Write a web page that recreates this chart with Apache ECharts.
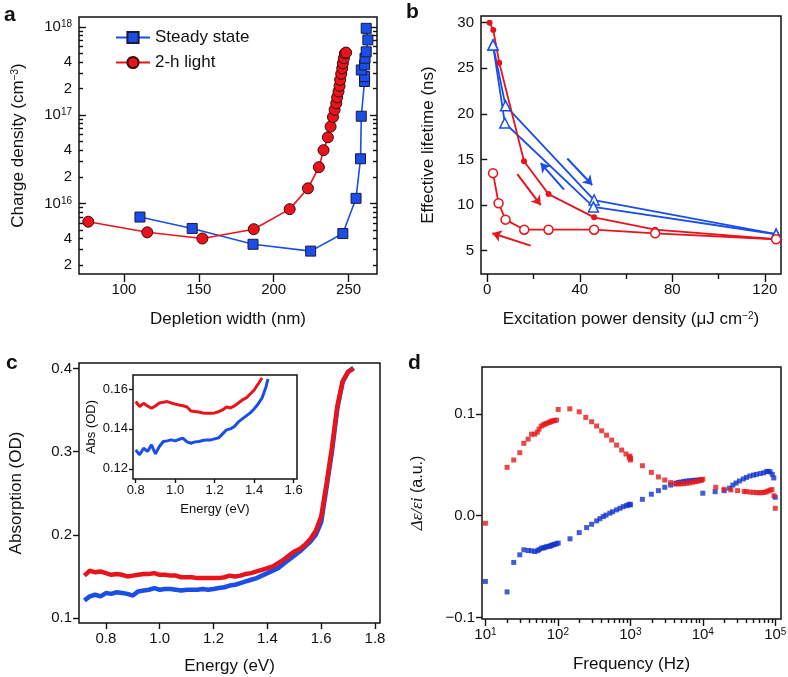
<!DOCTYPE html>
<html><head><meta charset="utf-8">
<script src="https://cdn.jsdelivr.net/npm/echarts@6/dist/echarts.min.js"></script>
<style>html,body{margin:0;padding:0;background:#fff}#c{width:788px;height:677px}</style>
</head><body><div id="c"></div>
<script>
// ---------- Panel a ----------
const aRedWidth = [76.2,115.6,152.4,186.7,210.7,222.9,230.2,233.3,236.2,238.0,239.6,240.7,241.8,242.4,243.3,244.0,244.4,245.1,245.8,246.2,246.9,247.6,248.4];
const aRedDensity = [6.2e15,4.7e15,4.0e15,5.1e15,8.6e15,1.48e16,2.57e16,4.0e16,5.6e16,7.4e16,9.5e16,1.15e17,1.36e17,1.59e17,1.85e17,2.14e17,2.5e17,2.93e17,3.39e17,3.86e17,4.4e17,5.0e17,5.1e17];
const aBlueWidth = [110.7,145.6,186.2,224.7,246.2,255.0,258.0,258.5,260.7,260.7,258.5,260.7,261.0,261.8,262.9,261.8];
const aBlueDensity = [7.0e15,5.2e15,3.44e15,2.88e15,4.55e15,1.14e16,3.2e16,9.7e16,2.4e17,2.73e17,3.24e17,3.7e17,4.4e17,5.2e17,7.1e17,9.6e17];
const aXTicks = [100,150,200,250];
const aYTicks = [2e15,4e15,1e16,2e16,4e16,1e17,2e17,4e17,1e18];

// ---------- Panel b ----------
const bRedFillPower = [1.0,2.6,5.2,15.9,26.5,46.2,72.6,124.9];
const bRedFillLife  = [30.0,29.2,25.6,14.8,11.2,8.65,7.3,6.25];
const bRedOpenPower = [124.9,72.6,46.2,26.5,16.0,7.9,4.9,2.5];
const bRedOpenLife  = [6.25,6.9,7.3,7.3,7.3,8.4,10.2,13.5];
const bBlueUpPower = [2.5,7.9,46.2,124.9];
const bBlueUpLife  = [27.55,20.9,10.55,6.8];
const bBlueDownPower = [124.9,45.9,7.6,2.5];
const bBlueDownLife  = [6.8,9.8,19.0,27.55];
const bBlueArrows = [[34.6,15.1,45.4,12.2],[33.2,11.7,23.1,14.6]];
const bRedArrows  = [[13.0,13.4,23.1,10.0],[18.75,5.55,2.2,6.9]];
const bXTicks = [0,40,80,120];
const bXMinorTicks = [20,60,100];
const bYTicks = [5,10,15,20,25,30];

// ---------- Panel c ----------
const cEnergy = [0.72,0.74,0.76,0.78,0.80,0.82,0.84,0.86,0.88,0.90,0.92,0.94,0.96,0.98,1.00,1.02,1.04,1.06,1.08,1.10,1.12,1.14,1.16,1.18,1.20,1.22,1.24,1.26,1.28,1.30,1.32,1.34,1.36,1.38,1.40,1.42,1.44,1.46,1.48,1.50,1.52,1.54,1.56,1.58,1.60,1.62,1.64,1.66,1.68,1.70,1.72];
const cRed  = [0.151,0.157,0.155,0.156,0.154,0.152,0.153,0.152,0.150,0.151,0.152,0.153,0.153,0.154,0.152,0.152,0.151,0.151,0.149,0.149,0.149,0.148,0.148,0.148,0.148,0.148,0.149,0.151,0.150,0.151,0.153,0.154,0.156,0.158,0.160,0.162,0.166,0.170,0.175,0.180,0.183,0.188,0.195,0.205,0.222,0.262,0.305,0.355,0.385,0.396,0.400];
const cBlue = [0.121,0.126,0.128,0.126,0.130,0.129,0.131,0.130,0.129,0.127,0.132,0.133,0.134,0.136,0.134,0.135,0.135,0.134,0.133,0.134,0.134,0.134,0.135,0.134,0.135,0.136,0.137,0.139,0.140,0.142,0.144,0.146,0.148,0.151,0.154,0.157,0.160,0.165,0.170,0.175,0.180,0.186,0.192,0.200,0.215,0.257,0.300,0.352,0.384,0.396,0.401];
const cXTicks = [0.8,1.0,1.2,1.4,1.6,1.8];
const cYTicks = [0.1,0.2,0.3,0.4];
const insetEnergy = [0.80,0.82,0.84,0.86,0.88,0.90,0.92,0.94,0.96,0.98,1.00,1.02,1.04,1.06,1.08,1.10,1.12,1.14,1.16,1.18,1.20,1.22,1.24,1.26,1.28,1.30,1.32,1.34,1.36,1.38,1.40,1.42,1.44,1.46,1.47];
const insetRed  = [0.1537,0.1512,0.1528,0.1515,0.1503,0.1515,0.1530,0.1534,0.1537,0.1530,0.1524,0.1520,0.1516,0.1510,0.1490,0.1487,0.1485,0.1480,0.1478,0.1478,0.1480,0.1486,0.1495,0.1510,0.1505,0.1515,0.1530,0.1545,0.1555,0.1575,0.1595,0.1625,0.1655,null,null];
const insetBlue = [0.1295,0.1270,0.1303,0.1287,0.1320,0.1275,0.1312,0.1337,0.1340,0.1345,0.1340,0.1348,0.1353,0.1335,0.1328,0.1335,0.1337,0.1342,0.1345,0.1345,0.1350,0.1355,0.1375,0.1395,0.1400,0.1412,0.1435,0.1450,0.1465,0.1480,0.1500,0.1525,0.1555,0.1610,0.1650];
const insetXTicks = [0.8,1.0,1.2,1.4,1.6];
const insetYTicks = [0.12,0.14,0.16];

// ---------- Panel d ----------
const dRedFreq = [10,19.9,24.6,29.8,33.9,38.9,43.3,48,52,55,59,63,66,69.9,75,78,81.6,86,90,95.8,101,146,197,243,292,343,402,470,553,646,759,871,962,990,1000,1010,1466,1950,2440,2985,3600,4240,4600,5000,5500,6000,6600,7200,7800,8400,9000,9500,10000,15100,19700,24400,30200,37300,40000,45000,50000,55000,60000,65000,70000,75000,80000,85000,90000,96000,100000];
const dRedVal  = [-0.0075,0.0474,0.0546,0.0618,0.071,0.0752,0.080,0.080,0.082,0.085,0.088,0.089,0.090,0.0906,0.0915,0.092,0.0928,0.093,0.0935,0.0938,0.1043,0.1049,0.102,0.0965,0.0922,0.088,0.0833,0.079,0.0742,0.0693,0.0644,0.0605,0.0572,0.0585,0.0546,0.056,0.049,0.0425,0.038,0.035,0.0324,0.031,0.0313,0.0312,0.0314,0.0318,0.0322,0.0328,0.0333,0.0338,0.0343,0.035,0.0357,0.0278,0.0259,0.0252,0.0245,0.0237,0.0235,0.0231,0.0228,0.0226,0.0225,0.0225,0.0228,0.0233,0.0242,0.025,0.0255,0.0195,0.0072];
const dBlueFreq = [10,19.9,24.6,29.8,33.9,38.9,43.3,48,52,55,59,63,66,69.9,75,78,81.6,86,90,95.8,101,147,197,249,292,343,380,423,460,522,570,646,720,798,880,940,988,1000,1466,1950,2440,2985,3600,4240,4600,5000,5500,6000,6600,7200,7800,8400,9000,9500,10000,14800,19700,23400,26000,28800,32000,36300,40000,44700,50000,55000,62000,69000,75900,80000,85000,91000,95500,100000];
const dBlueVal  = [-0.0647,-0.075,-0.046,-0.0385,-0.0336,-0.0343,-0.0346,-0.0353,-0.0345,-0.0335,-0.032,-0.0318,-0.0312,-0.0306,-0.0302,-0.030,-0.0292,-0.0287,-0.0282,-0.0277,-0.027,-0.0228,-0.0167,-0.0118,-0.0085,-0.0052,-0.003,-0.001,0.0005,0.0024,0.0038,0.0056,0.0072,0.0088,0.0098,0.0105,0.0112,0.0105,0.016,0.021,0.0245,0.0278,0.030,0.0318,0.0325,0.033,0.0335,0.034,0.0343,0.0345,0.0347,0.0348,0.035,0.035,0.022,0.0235,0.0245,0.027,0.030,0.032,0.034,0.036,0.0375,0.0389,0.0398,0.0405,0.0413,0.042,0.0432,0.0435,0.043,0.0405,0.037,0.018];
const dXTicks = [10,100,1000,10000,100000];
const dYTicks = [-0.1,0,0.1];

// ---------- build ----------
const FONT = '"Liberation Sans", Arial, Helvetica, sans-serif';
const RED = '#e8141c', BLUE = '#1a4ee6', DRED = '#e41a1c', DBLUE = '#1433cc';
const INK = '#111';
const zip = (xs, ys) => xs.map((x, i) => [x, ys[i]]);
const L10 = v => Math.log10(v);

const aYMin = 1.585e15, aYMax = 1.29e18;
const dXMin = 8.97, dXMax = 1.2e5;
const aMinorLog = [];
for (let n = 15; n <= 17; n++) for (let k = 2; k <= 9; k++) {
  const v = L10(k) + n; if (v >= L10(aYMin) && v <= L10(aYMax)) aMinorLog.push(v);
}
const aDecLog = [16, 17, 18];
const dMinorLog = [];
for (let n = 1; n <= 4; n++) for (let k = 2; k <= 9; k++) dMinorLog.push(L10(k) + n);

const lbl = (extra) => Object.assign({color: INK, fontFamily: FONT, fontSize: 15}, extra || {});
const tickStyle = {color: INK, width: 1.4};
function vAxis(o) {
  const ax = {
    type: 'value', gridIndex: o.grid, min: o.min, max: o.max, position: o.position,
    splitLine: {show: false}, axisLine: {show: false},
    axisTick: {show: !!o.ticks, inside: !!o.inside, length: o.tickLen || 6, lineStyle: tickStyle, customValues: o.ticks},
    axisLabel: o.labels ? lbl(Object.assign({show: true, customValues: o.labels, margin: o.margin || 6, formatter: o.fmt}, o.labelExtra || {})) : {show: false},
    nameMoveOverlap: false
  };
  if (o.name) {
    ax.name = o.name; ax.nameLocation = 'middle'; ax.nameGap = o.nameGap;
    ax.nameTextStyle = Object.assign({color: INK, fontFamily: FONT, fontSize: o.nameSize || 17}, o.nameStyle || {});
  }
  return ax;
}
const sup = {s: {fontSize: 10, verticalAlign: 'top', fontFamily: FONT, color: INK}};

const grids = [
  {left: 79, top: 17, width: 298, height: 257},   // a
  {left: 481, top: 16, width: 300, height: 258},  // b
  {left: 79, top: 363, width: 301, height: 260},  // c
  {left: 133, top: 375, width: 164, height: 104}, // inset
  {left: 482, top: 367, width: 299, height: 252}  // d
].map((g, i) => Object.assign({show: true, borderColor: INK, borderWidth: 1.5, backgroundColor: i === 3 ? '#fff' : 'transparent', outerBoundsMode: 'none', containLabel: false}, g));

const xAxis = [
  vAxis({grid: 0, position: 'bottom', min: 70, max: 269, ticks: aXTicks, tickLen: 8, labels: aXTicks, margin: 8, name: 'Depletion width (nm)', nameGap: 37}),
  vAxis({grid: 1, position: 'bottom', min: -2.7, max: 127, ticks: bXTicks, tickLen: 8, labels: bXTicks, margin: 8,
    name: 'Excitation power density (μJ cm{s|−2})', nameGap: 37, nameStyle: {rich: sup}}),
  vAxis({grid: 1, position: 'bottom', min: -2.7, max: 127, ticks: bXMinorTicks, tickLen: 5}),
  vAxis({grid: 2, position: 'bottom', min: 0.70, max: 1.8186, ticks: cXTicks, tickLen: 6, labels: cXTicks, margin: 8, fmt: v => v.toFixed(1), name: 'Energy (eV)', nameGap: 35}),
  vAxis({grid: 3, position: 'bottom', min: 0.7865, max: 1.617, ticks: insetXTicks, tickLen: 4, labels: insetXTicks, margin: 5, fmt: v => v.toFixed(1), labelExtra: {fontSize: 13}, name: 'Energy (eV)', nameGap: 24, nameSize: 13}),
  {type: 'log', logBase: 10, gridIndex: 4, position: 'bottom', min: dXMin, max: dXMax, show: false, splitLine: {show: false}},
  vAxis({grid: 4, position: 'bottom', min: L10(dXMin), max: L10(dXMax), ticks: dXTicks.map(L10), tickLen: 7, labels: dXTicks.map(L10), margin: 8,
    fmt: v => '10{s|' + Math.round(v) + '}', labelExtra: {rich: sup}, name: 'Frequency (Hz)', nameGap: 37}),
  vAxis({grid: 4, position: 'bottom', min: L10(dXMin), max: L10(dXMax), ticks: dMinorLog, tickLen: 4})
];

const aYFmt = v => {
  const n = Math.floor(v + 1e-9);
  if (Math.abs(v - Math.round(v)) < 1e-6) return '10{s|' + Math.round(v) + '}';
  return String(Math.round(Math.pow(10, v - n)));
};
const yAxis = [
  {type: 'log', logBase: 10, gridIndex: 0, position: 'left', min: aYMin, max: aYMax, show: false, splitLine: {show: false}},
  vAxis({grid: 0, min: L10(aYMin), max: L10(aYMax), position: 'left', ticks: aDecLog, inside: true, tickLen: 7,
    labels: aYTicks.map(L10), fmt: aYFmt, labelExtra: {rich: sup}, margin: 7,
    name: 'Charge density (cm{s|−3})', nameGap: 52, nameStyle: {rich: sup}}),
  vAxis({grid: 0, min: L10(aYMin), max: L10(aYMax), position: 'left', ticks: aMinorLog, inside: true, tickLen: 4}),
  vAxis({grid: 0, min: L10(aYMin), max: L10(aYMax), position: 'right', ticks: aDecLog, inside: true, tickLen: 7}),
  vAxis({grid: 0, min: L10(aYMin), max: L10(aYMax), position: 'right', ticks: aMinorLog, inside: true, tickLen: 4}),
  vAxis({grid: 1, min: 2.44, max: 30.73, position: 'left', ticks: bYTicks, tickLen: 6, labels: bYTicks, margin: 7, name: 'Effective lifetime (ns)', nameGap: 44}),
  vAxis({grid: 2, min: 0.094, max: 0.4067, position: 'left', ticks: cYTicks, tickLen: 6, labels: cYTicks, margin: 7, fmt: v => v.toFixed(1), name: 'Absorption (OD)', nameGap: 54}),
  vAxis({grid: 3, min: 0.1149, max: 0.167, position: 'left', ticks: insetYTicks, tickLen: 4, labels: insetYTicks, margin: 5, fmt: v => v.toFixed(2), labelExtra: {fontSize: 13}, name: 'Abs (OD)', nameGap: 35, nameSize: 13}),
  vAxis({grid: 4, min: -0.1016, max: 0.146, position: 'left', ticks: dYTicks, tickLen: 6, labels: dYTicks, margin: 7,
    fmt: v => v.toFixed(1).replace('-', '−'),
    name: '{m|Δε/εi} (a.u.)', nameGap: 56, nameStyle: {fontSize: 16, rich: {m: {fontFamily: '"Liberation Serif", "DejaVu Serif", serif', fontStyle: 'italic', fontSize: 17, color: INK}}}})
];

const arrowLines = (arr, color) => ({
  silent: true, symbol: ['none', 'arrow'], symbolSize: 9, animation: false,
  lineStyle: {color: color, width: 2, type: 'solid'}, label: {show: false}, emphasis: {disabled: true},
  data: arr.map(a => [{coord: [a[0], a[1]]}, {coord: [a[2], a[3]]}])
});

const series = [
  // a
  {name: 'Steady state', type: 'line', xAxisIndex: 0, yAxisIndex: 0, data: zip(aBlueWidth, aBlueDensity),
   symbol: 'rect', symbolSize: 10, lineStyle: {color: BLUE, width: 1.6},
   itemStyle: {color: BLUE, borderColor: '#1a1a40', borderWidth: 1}},
  {name: '2-h light', type: 'line', xAxisIndex: 0, yAxisIndex: 0, data: zip(aRedWidth, aRedDensity),
   symbol: 'circle', symbolSize: 11, lineStyle: {color: RED, width: 1.6},
   itemStyle: {color: RED, borderColor: '#3a0808', borderWidth: 1}},
  // b
  {type: 'line', xAxisIndex: 1, yAxisIndex: 5, data: zip(bBlueUpPower, bBlueUpLife), symbol: 'triangle', symbolSize: 10,
   lineStyle: {color: BLUE, width: 1.8}, itemStyle: {color: '#fff', borderColor: BLUE, borderWidth: 1.5},
   markLine: arrowLines(bBlueArrows, BLUE)},
  {type: 'line', xAxisIndex: 1, yAxisIndex: 5, data: zip(bBlueDownPower, bBlueDownLife), symbol: 'triangle', symbolSize: 10,
   lineStyle: {color: BLUE, width: 1.8}, itemStyle: {color: '#fff', borderColor: BLUE, borderWidth: 1.5}},
  {type: 'line', xAxisIndex: 1, yAxisIndex: 5, data: zip(bRedFillPower, bRedFillLife), symbol: 'circle', symbolSize: 6,
   lineStyle: {color: RED, width: 1.8}, itemStyle: {color: RED},
   markLine: arrowLines(bRedArrows, RED)},
  {type: 'line', xAxisIndex: 1, yAxisIndex: 5, data: zip(bRedOpenPower, bRedOpenLife), symbol: 'circle', symbolSize: 9,
   lineStyle: {color: RED, width: 1.8}, itemStyle: {color: '#fff', borderColor: RED, borderWidth: 1.5}},
  // c
  {type: 'line', xAxisIndex: 3, yAxisIndex: 6, data: zip(cEnergy, cBlue), showSymbol: false, lineStyle: {color: BLUE, width: 4.5}},
  {type: 'line', xAxisIndex: 3, yAxisIndex: 6, data: zip(cEnergy, cRed), showSymbol: false, lineStyle: {color: RED, width: 4.5}},
  // inset
  {type: 'line', xAxisIndex: 4, yAxisIndex: 7, data: zip(insetEnergy, insetBlue), showSymbol: false, connectNulls: false, lineStyle: {color: BLUE, width: 3}},
  {type: 'line', xAxisIndex: 4, yAxisIndex: 7, data: zip(insetEnergy, insetRed), showSymbol: false, connectNulls: false, lineStyle: {color: RED, width: 3}},
  // d
  {type: 'scatter', xAxisIndex: 5, yAxisIndex: 8, data: zip(dBlueFreq, dBlueVal), symbol: 'rect', symbolSize: 5, itemStyle: {color: DBLUE}},
  {type: 'scatter', xAxisIndex: 5, yAxisIndex: 8, data: zip(dRedFreq, dRedVal), symbol: 'rect', symbolSize: 5, itemStyle: {color: DRED}}
];

const panelLabel = (t, x, y) => ({type: 'text', left: x, top: y, style: {text: t, font: 'bold 21px ' + FONT, fill: INK}});

const chart = echarts.init(document.getElementById('c'), null, {renderer: 'canvas'});
chart.setOption({
  animation: false,
  backgroundColor: '#fff',
  grid: grids,
  xAxis: xAxis,
  yAxis: yAxis,
  legend: {
    data: ['Steady state', '2-h light'], left: 110, top: 24, orient: 'vertical',
    itemWidth: 34, itemHeight: 14, itemGap: 8,
    textStyle: {color: INK, fontFamily: FONT, fontSize: 17}
  },
  series: series,
  graphic: [panelLabel('a', 4, 5), panelLabel('b', 406, 2), panelLabel('c', 6, 353), panelLabel('d', 408, 353)]
});
</script></body></html>
